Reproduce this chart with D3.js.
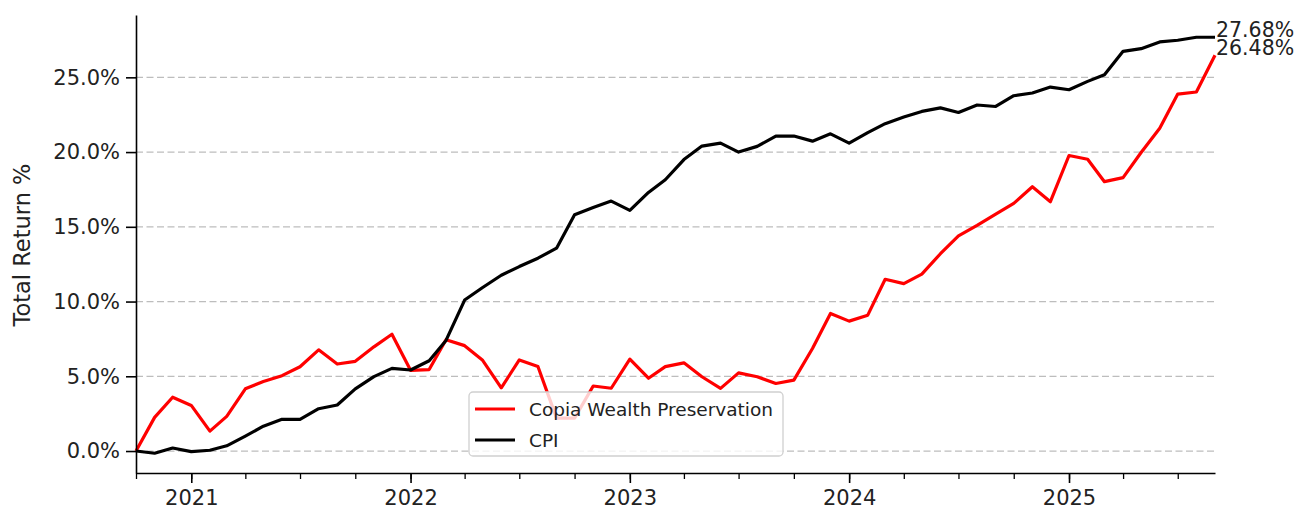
<!DOCTYPE html>
<html>
<head>
<meta charset="utf-8">
<script src="https://cdn.jsdelivr.net/npm/d3@7"></script>
<style>
  body { margin: 0; background: #fff; }
  text { font-family: "DejaVu Sans", sans-serif; fill: #222; }
</style>
</head>
<body>
<div id="chart"></div>
<script>
// monthly points, Oct 2020 .. Sep 2025
const startMonth = new Date(2020, 9, 1);
const copia = [
  0.0, 2.25, 3.6, 3.05, 1.33, 2.32, 4.16, 4.65, 5.04, 5.64,
  6.77, 5.82, 6.0, 6.97, 7.81, 5.4, 5.45, 7.45, 7.05, 6.07,
  4.23, 6.09, 5.65, 2.2, 2.2, 4.35, 4.2, 6.15, 4.87, 5.65,
  5.9, 4.97, 4.19, 5.23, 4.97, 4.52, 4.74, 6.86, 9.2, 8.69,
  9.09, 11.49, 11.2, 11.83, 13.2, 14.4, 15.1, 15.85, 16.57, 17.68,
  16.68, 19.77, 19.52, 18.02, 18.29, 19.97, 21.6, 23.88, 24.02, 26.48
];
const cpi = [
  0.0, -0.15, 0.2, -0.04, 0.05, 0.35, 1.0, 1.66, 2.12, 2.12,
  2.83, 3.08, 4.16, 4.98, 5.53, 5.42, 6.04, 7.4, 10.1, 10.94,
  11.76, 12.34, 12.9, 13.57, 15.8, 16.29, 16.72, 16.1, 17.3, 18.15,
  19.5, 20.4, 20.6, 20.0, 20.38, 21.07, 21.07, 20.73, 21.22, 20.6,
  21.3, 21.9, 22.34, 22.72, 22.96, 22.65, 23.15, 23.05, 23.77, 23.95,
  24.35, 24.17, 24.73, 25.18, 26.74, 26.92, 27.37, 27.48, 27.68, 27.68
];
const seriesNames = ["Copia Wealth Preservation", "CPI"];
const seriesColors = ["#ff0000", "#000000"];
const yTicks = [0, 5, 10, 15, 20, 25];

const dates = copia.map((_, i) => d3.timeMonth.offset(startMonth, i));
const series = [copia, cpi].map((vals, s) => ({
  name: seriesNames[s],
  color: seriesColors[s],
  values: vals.map((v, i) => ({ date: dates[i], value: v }))
}));

const width = 1302, height = 512;
const svg = d3.select("#chart").append("svg")
    .attr("width", width)
    .attr("height", height);

svg.append("rect").attr("width", width).attr("height", height).attr("fill", "#fff");

const xScale = d3.scaleTime().domain([dates[0], dates[dates.length - 1]]).range([136, 1215]);
const yScale = d3.scaleLinear().domain([-1.47, 29.17]).range([473, 15]);

// horizontal dashed grid
svg.append("g")
    .selectAll("line")
    .data(yTicks)
    .join("line")
    .attr("x1", 136)
    .attr("x2", 1215)
    .attr("y1", d => yScale(d))
    .attr("y2", d => yScale(d))
    .attr("stroke", "#bdbdbd")
    .attr("stroke-width", 1.3)
    .attr("stroke-dasharray", "7,3.5");

const line = d3.line()
    .x(d => xScale(d.date))
    .y(d => yScale(d.value));

svg.append("g")
    .selectAll("path")
    .data(series)
    .join("path")
    .attr("d", d => line(d.values))
    .attr("fill", "none")
    .attr("stroke", d => d.color)
    .attr("stroke-width", 3.2)
    .attr("stroke-linejoin", "round");

// end value labels
svg.append("g")
    .selectAll("text")
    .data(series)
    .join("text")
    .attr("x", d => xScale(d.values[d.values.length - 1].date) + 1)
    .attr("y", d => yScale(d.values[d.values.length - 1].value))
    .style("font-size", "20.5px")
    .text(d => d.values[d.values.length - 1].value.toFixed(2) + "%");

// axes
const yAxis = d3.axisLeft(yScale)
    .tickValues(yTicks)
    .tickFormat(d => d.toFixed(1) + "%")
    .tickSize(10)
    .tickSizeOuter(0)
    .tickPadding(6);

const gy = svg.append("g")
    .attr("transform", "translate(136,0)")
    .call(yAxis);
gy.select(".domain").attr("stroke-width", 1.6);
gy.selectAll(".tick line").attr("stroke-width", 1.6);
gy.selectAll(".tick text").style("font-size", "21px").attr("fill", "#222");

const xMinor = d3.axisBottom(xScale)
    .ticks(d3.timeMonth.every(3))
    .tickFormat("")
    .tickSize(6)
    .tickSizeOuter(0);
const gxm = svg.append("g")
    .attr("transform", "translate(0,473)")
    .call(xMinor);
gxm.select(".domain").remove();
gxm.selectAll(".tick line").attr("stroke-width", 1.3);

const xAxis = d3.axisBottom(xScale)
    .ticks(d3.timeYear.every(1))
    .tickFormat(d3.timeFormat("%Y"))
    .tickSize(10)
    .tickSizeOuter(0)
    .tickPadding(7);
const gx = svg.append("g")
    .attr("transform", "translate(0,473)")
    .call(xAxis);
gx.select(".domain").attr("stroke-width", 1.6);
gx.selectAll(".tick line").attr("stroke-width", 1.6);
gx.selectAll(".tick text").style("font-size", "21px").attr("fill", "#222");

svg.append("text")
    .attr("transform", "translate(30,245) rotate(-90)")
    .attr("text-anchor", "middle")
    .style("font-size", "22.5px")
    .text("Total Return %");

// legend
const legend = svg.append("g").attr("transform", "translate(469,392)");
legend.append("rect")
    .attr("width", 314)
    .attr("height", 64)
    .attr("rx", 4)
    .attr("fill", "#fff")
    .attr("fill-opacity", 0.8)
    .attr("stroke", "#d0d0d0")
    .attr("stroke-width", 1.3);

const items = legend.selectAll(".item")
    .data(series)
    .join("g")
    .attr("class", "item")
    .attr("transform", (d, i) => `translate(0,${17 + i * 31})`);
items.append("line")
    .attr("x1", 6).attr("x2", 46)
    .attr("stroke", d => d.color)
    .attr("stroke-width", 3.2);
items.append("text")
    .attr("x", 60)
    .attr("y", 6.5)
    .style("font-size", "18.5px")
    .text(d => d.name);
</script>
</body>
</html>
